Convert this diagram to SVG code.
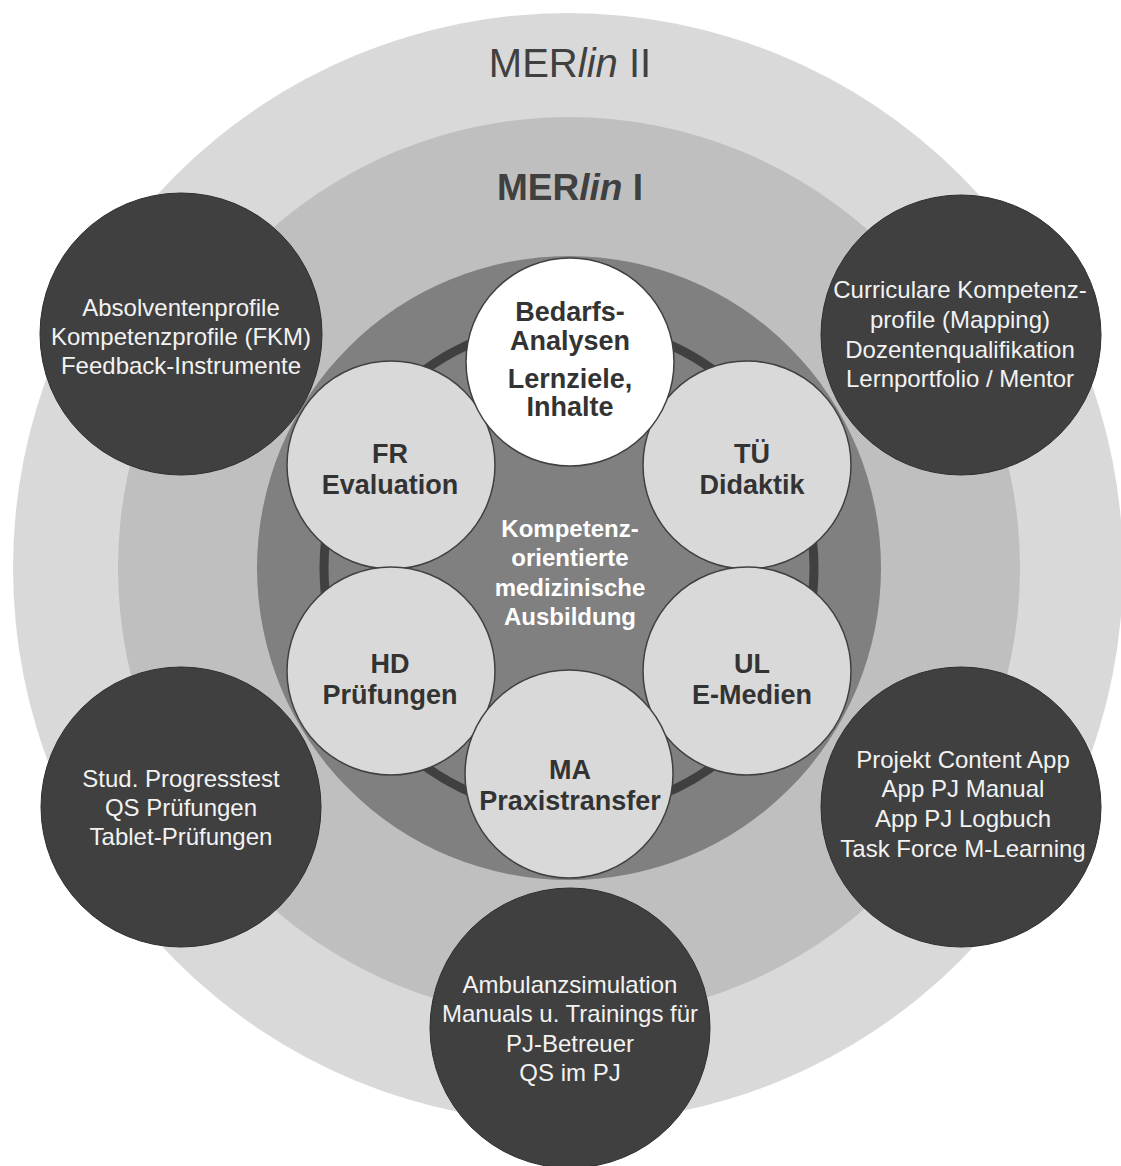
<svg xmlns="http://www.w3.org/2000/svg" width="1121" height="1166" viewBox="0 0 1121 1166">
<defs>
<style>
text{font-family:"Liberation Sans",Arial,sans-serif;text-anchor:middle}
.ttl{font-size:40px;fill:#404040}
.ttlb{font-size:37px;font-weight:bold;fill:#404040}
.blk{fill:#404040;stroke:#2e2e2e;stroke-width:1}
.sm{fill:#d9d9d9;stroke:#404040;stroke-width:1.5}
.wh{fill:#ffffff;stroke:#404040;stroke-width:1.5}
.lbl{font-size:27px;font-weight:bold;fill:#333333}
.ctr{font-size:24px;font-weight:bold;fill:#ffffff}
.out{font-size:24px;fill:#f2f2f2}
</style>
</defs>
<g id="background">
<circle cx="568" cy="568" r="555" fill="#d9d9d9"/>
<circle cx="569" cy="568" r="451" fill="#bfbfbf"/>
<circle cx="569" cy="568" r="312" fill="#808080"/>
<circle cx="569" cy="568" r="245" fill="none" stroke="#404040" stroke-width="9"/>
</g>
<g id="titles">
<text class="ttl" x="570" y="77">MER<tspan font-style="italic">lin</tspan> II</text>
<text class="ttlb" x="570" y="200">MER<tspan font-style="italic">lin</tspan> I</text>
</g>
<g id="connectors"/>
<g id="node-absolventen">
<circle class="blk" cx="181" cy="334" r="141"/>
<text class="out" x="181" y="316">Absolventenprofile</text>
<text class="out" x="181" y="345">Kompetenzprofile (FKM)</text>
<text class="out" x="181" y="374">Feedback-Instrumente</text>
</g>
<g id="node-curriculare">
<circle class="blk" cx="961" cy="335" r="140"/>
<text class="out" x="960" y="298">Curriculare Kompetenz-</text>
<text class="out" x="960" y="328">profile (Mapping)</text>
<text class="out" x="960" y="358">Dozentenqualifikation</text>
<text class="out" x="960" y="387">Lernportfolio / Mentor</text>
</g>
<g id="node-progresstest">
<circle class="blk" cx="181" cy="807" r="140"/>
<text class="out" x="181" y="787">Stud. Progresstest</text>
<text class="out" x="181" y="816">QS Prüfungen</text>
<text class="out" x="181" y="845">Tablet-Prüfungen</text>
</g>
<g id="node-content-app">
<circle class="blk" cx="961" cy="807" r="140"/>
<text class="out" x="963" y="768">Projekt Content App</text>
<text class="out" x="963" y="797">App PJ Manual</text>
<text class="out" x="963" y="827">App PJ Logbuch</text>
<text class="out" x="963" y="857">Task Force M-Learning</text>
</g>
<g id="node-ambulanz">
<circle class="blk" cx="570" cy="1028" r="140"/>
<text class="out" x="570" y="993">Ambulanzsimulation</text>
<text class="out" x="570" y="1022">Manuals u. Trainings für</text>
<text class="out" x="570" y="1052">PJ-Betreuer</text>
<text class="out" x="570" y="1081">QS im PJ</text>
</g>
<g id="node-fr">
<circle class="sm" cx="391" cy="465" r="104"/>
<text class="lbl" x="390" y="463">FR</text>
<text class="lbl" x="390" y="494">Evaluation</text>
</g>
<g id="node-tue">
<circle class="sm" cx="747" cy="465" r="104"/>
<text class="lbl" x="752" y="463">TÜ</text>
<text class="lbl" x="752" y="494">Didaktik</text>
</g>
<g id="node-ul">
<circle class="sm" cx="747" cy="671" r="104"/>
<text class="lbl" x="752" y="673">UL</text>
<text class="lbl" x="752" y="704">E-Medien</text>
</g>
<g id="node-hd">
<circle class="sm" cx="391" cy="671" r="104"/>
<text class="lbl" x="390" y="673">HD</text>
<text class="lbl" x="390" y="704">Prüfungen</text>
</g>
<g id="node-ma">
<circle class="sm" cx="569" cy="774" r="104"/>
<text class="lbl" x="570" y="779">MA</text>
<text class="lbl" x="570" y="810">Praxistransfer</text>
</g>
<g id="node-bedarf">
<circle class="wh" cx="570" cy="362" r="104"/>
<text class="lbl" x="570" y="321">Bedarfs-</text>
<text class="lbl" x="570" y="350">Analysen</text>
<text class="lbl" x="570" y="388">Lernziele,</text>
<text class="lbl" x="570" y="416">Inhalte</text>
</g>
<g id="node-center">
<text class="ctr" x="570" y="537">Kompetenz-</text>
<text class="ctr" x="570" y="566">orientierte</text>
<text class="ctr" x="570" y="596">medizinische</text>
<text class="ctr" x="570" y="625">Ausbildung</text>
</g>
</svg>
